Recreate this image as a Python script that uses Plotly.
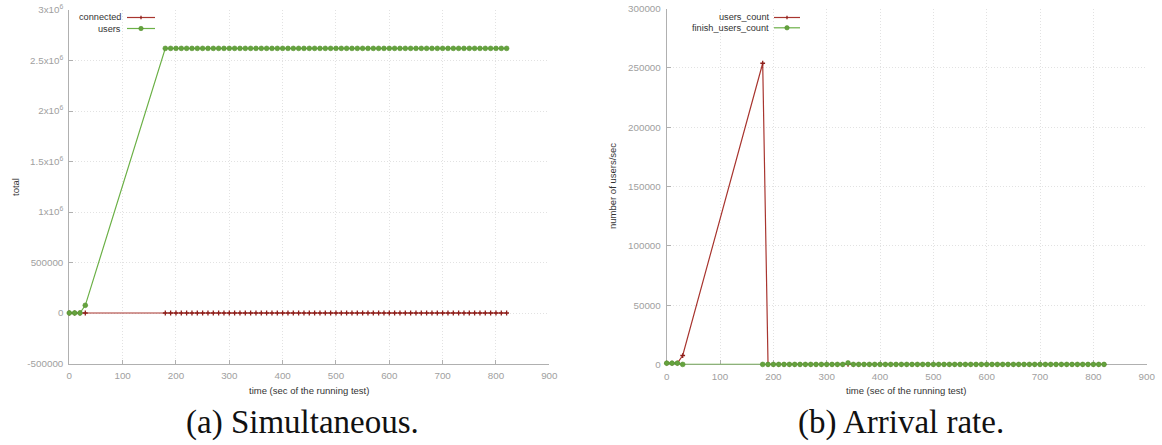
import plotly.graph_objects as go

# ---------------- data ----------------
time_s = [0, 10, 20, 30,
          180, 190, 200, 210, 220, 230, 240, 250, 260, 270, 280, 290, 300,
          310, 320, 330, 340, 350, 360, 370, 380, 390, 400, 410, 420, 430,
          440, 450, 460, 470, 480, 490, 500, 510, 520, 530, 540, 550, 560,
          570, 580, 590, 600, 610, 620, 630, 640, 650, 660, 670, 680, 690,
          700, 710, 720, 730, 740, 750, 760, 770, 780, 790, 800, 810, 820]

# (a) Simultaneous
connected = [0, 0, 0, 0,
             0, 0, 0, 0, 0, 0, 0, 0, 0, 0, 0, 0, 0,
             0, 0, 0, 0, 0, 0, 0, 0, 0, 0, 0, 0, 0,
             0, 0, 0, 0, 0, 0, 0, 0, 0, 0, 0, 0, 0,
             0, 0, 0, 0, 0, 0, 0, 0, 0, 0, 0, 0, 0,
             0, 0, 0, 0, 0, 0, 0, 0, 0, 0, 0, 0, 0]
users = [0, 0, 0, 76000,
         2620000, 2620000, 2620000, 2620000, 2620000, 2620000, 2620000, 2620000, 2620000, 2620000, 2620000, 2620000, 2620000,
         2620000, 2620000, 2620000, 2620000, 2620000, 2620000, 2620000, 2620000, 2620000, 2620000, 2620000, 2620000, 2620000,
         2620000, 2620000, 2620000, 2620000, 2620000, 2620000, 2620000, 2620000, 2620000, 2620000, 2620000, 2620000, 2620000,
         2620000, 2620000, 2620000, 2620000, 2620000, 2620000, 2620000, 2620000, 2620000, 2620000, 2620000, 2620000, 2620000,
         2620000, 2620000, 2620000, 2620000, 2620000, 2620000, 2620000, 2620000, 2620000, 2620000, 2620000, 2620000, 2620000]

# (b) Arrival rate
users_count = [1000, 1000, 1000, 7500,
               254000, 0, 0, 0, 0, 0, 0, 0, 0, 0, 0, 0, 0,
               0, 0, 0, 0, 0, 0, 0, 0, 0, 0, 0, 0, 0,
               0, 0, 0, 0, 0, 0, 0, 0, 0, 0, 0, 0, 0,
               0, 0, 0, 0, 0, 0, 0, 0, 0, 0, 0, 0, 0,
               0, 0, 0, 0, 0, 0, 0, 0, 0, 0, 0, 0, 0]
finish_users_count = [1000, 1000, 1000, 0,
                      0, 0, 0, 0, 0, 0, 0, 0, 0, 0, 0, 0, 0,
                      0, 0, 0, 1200, 0, 0, 0, 0, 0, 0, 0, 0, 0,
                      0, 0, 0, 0, 0, 0, 0, 0, 0, 0, 0, 0, 0,
                      0, 0, 0, 0, 0, 0, 0, 0, 0, 0, 0, 0, 0,
                      0, 0, 0, 0, 0, 0, 0, 0, 0, 0, 0, 0, 0]

x_ticks = [0, 100, 200, 300, 400, 500, 600, 700, 800, 900]
ya_ticks = [-500000, 0, 500000, 1000000, 1500000, 2000000, 2500000, 3000000]
ya_text = ["-500000", "0", "500000", "1x10<sup>6</sup>", "1.5x10<sup>6</sup>",
           "2x10<sup>6</sup>", "2.5x10<sup>6</sup>", "3x10<sup>6</sup>"]
yb_ticks = [0, 50000, 100000, 150000, 200000, 250000, 300000]
yb_text = ["0", "50000", "100000", "150000", "200000", "250000", "300000"]

legend_a = ["connected", "users"]
legend_b = ["users_count", "finish_users_count"]
caption_a = "(a) Simultaneous."
caption_b = "(b) Arrival rate."
x_title = "time (sec of the running test)"
ya_title = "total"
yb_title = "number of users/sec"

# ---------------- styles ----------------
W, H = 1162, 445
RED_LINE = "#a8352f"
RED_MK = "#8e1e1a"
GREEN_LINE = "#6bb046"
GREEN_MK = "#64a33e"
AXIS_C = "#b0b0b0"
GRID_C = "#e2e2e2"
TICK_FONT = dict(family="Liberation Sans", size=9.8, color="#a0a0a0")
TITLE_FONT = dict(family="Liberation Sans", size=9.5, color="#333333")


def px(x):
    return x / W


def py(y):
    return 1 - y / H


red_marker = dict(symbol="cross-thin", size=3.4, color=RED_MK,
                  line=dict(width=1.3, color=RED_MK))
green_marker = dict(symbol="circle", size=4.8, color=GREEN_MK,
                    line=dict(width=0.6, color="#55902f"))

fig = go.Figure()
fig.add_trace(go.Scatter(x=time_s, y=connected, mode="lines+markers", name=legend_a[0],
                         line=dict(color=RED_LINE, width=1.2), marker=red_marker,
                         xaxis="x", yaxis="y", showlegend=False, cliponaxis=False))
fig.add_trace(go.Scatter(x=time_s, y=users, mode="lines+markers", name=legend_a[1],
                         line=dict(color=GREEN_LINE, width=1.2), marker=green_marker,
                         xaxis="x", yaxis="y", showlegend=False, cliponaxis=False))
fig.add_trace(go.Scatter(x=time_s, y=users_count, mode="lines+markers", name=legend_b[0],
                         line=dict(color=RED_LINE, width=1.2), marker=red_marker,
                         xaxis="x2", yaxis="y2", showlegend=False, cliponaxis=False))
fig.add_trace(go.Scatter(x=time_s, y=finish_users_count, mode="lines+markers", name=legend_b[1],
                         line=dict(color=GREEN_LINE, width=1.2), marker=green_marker,
                         xaxis="x2", yaxis="y2", showlegend=False, cliponaxis=False))

common_axis = dict(showline=True, linecolor=AXIS_C, linewidth=1, mirror=False,
                   ticks="inside", ticklen=4, tickcolor=AXIS_C, tickwidth=1,
                   showgrid=True, gridcolor=GRID_C, griddash="1px,2px", gridwidth=1,
                   zeroline=False, tickfont=TICK_FONT, automargin=False,
                   layer="below traces", ticklabelstandoff=3)

fig.update_layout(
    width=W, height=H,
    margin=dict(l=0, r=0, t=0, b=0),
    paper_bgcolor="white", plot_bgcolor="white",
    showlegend=False,
    xaxis=dict(domain=[px(69.3), px(549.3)], range=[0, 900], tickvals=x_ticks,
               anchor="y", **common_axis),
    yaxis=dict(domain=[py(363.5), py(10)], range=[-500000, 3000000],
               tickvals=ya_ticks, ticktext=ya_text, anchor="x", **common_axis),
    xaxis2=dict(domain=[px(666.7), px(1146.7)], range=[0, 900], tickvals=x_ticks,
                anchor="y2", **common_axis),
    yaxis2=dict(domain=[py(364.4), py(8.7)], range=[0, 300000],
                tickvals=yb_ticks, ticktext=yb_text, anchor="x2", **common_axis),
)

annotations = []
shapes = []

# axis titles
annotations.append(dict(text=x_title, x=px(309), y=py(390), xref="paper", yref="paper",
                        showarrow=False, font=TITLE_FONT, xanchor="center", yanchor="middle"))
annotations.append(dict(text=x_title, x=px(906), y=py(390), xref="paper", yref="paper",
                        showarrow=False, font=TITLE_FONT, xanchor="center", yanchor="middle"))
annotations.append(dict(text=ya_title, x=px(15), y=py(187), xref="paper", yref="paper",
                        showarrow=False, font=TITLE_FONT, textangle=-90,
                        xanchor="center", yanchor="middle"))
annotations.append(dict(text=yb_title, x=px(612), y=py(186), xref="paper", yref="paper",
                        showarrow=False, font=TITLE_FONT, textangle=-90,
                        xanchor="center", yanchor="middle"))

# captions
CAP_FONT = dict(family="Liberation Serif", size=33, color="#111111")
annotations.append(dict(text=caption_a, x=px(303), y=py(422), xref="paper", yref="paper",
                        showarrow=False, font=CAP_FONT, xanchor="center", yanchor="middle"))
annotations.append(dict(text=caption_b, x=px(901), y=py(422), xref="paper", yref="paper",
                        showarrow=False, font=CAP_FONT, xanchor="center", yanchor="middle"))

# manual legends (text right, sample to the right, as gnuplot)
LEG_FONT = dict(family="Liberation Sans", size=9.2, color="#333333")


def add_legend(names, text_right, line_x0, line_x1, rows_y):
    colors = [(RED_LINE, RED_MK, "cross"), (GREEN_LINE, GREEN_MK, "circle")]
    for name, yy, (lc, mc, kind) in zip(names, rows_y, colors):
        annotations.append(dict(text=name, x=px(text_right), y=py(yy), xref="paper", yref="paper",
                                showarrow=False, font=LEG_FONT, xanchor="right", yanchor="middle"))
        shapes.append(dict(type="line", xref="paper", yref="paper",
                           x0=px(line_x0), x1=px(line_x1), y0=py(yy), y1=py(yy),
                           line=dict(color=lc, width=1.2)))
        cx = (line_x0 + line_x1) / 2
        if kind == "cross":
            shapes.append(dict(type="line", xref="paper", yref="paper",
                               x0=px(cx), x1=px(cx), y0=py(yy - 1.7), y1=py(yy + 1.7),
                               line=dict(color=mc, width=1.3)))
        else:
            shapes.append(dict(type="circle", xref="paper", yref="paper",
                               x0=px(cx - 2.2), x1=px(cx + 2.2), y0=py(yy + 2.2), y1=py(yy - 2.2),
                               fillcolor=mc, line=dict(color="#55902f", width=0.6)))


add_legend(legend_a, 123.5, 127, 155, [17.5, 28.5])
add_legend(legend_b, 770.5, 774, 800, [17.5, 27.8])

fig.update_layout(annotations=annotations, shapes=shapes)

fig.write_html("out.html", config={"displayModeBar": False},
               post_script="document.body.style.margin='0';document.body.style.overflow='hidden';")
